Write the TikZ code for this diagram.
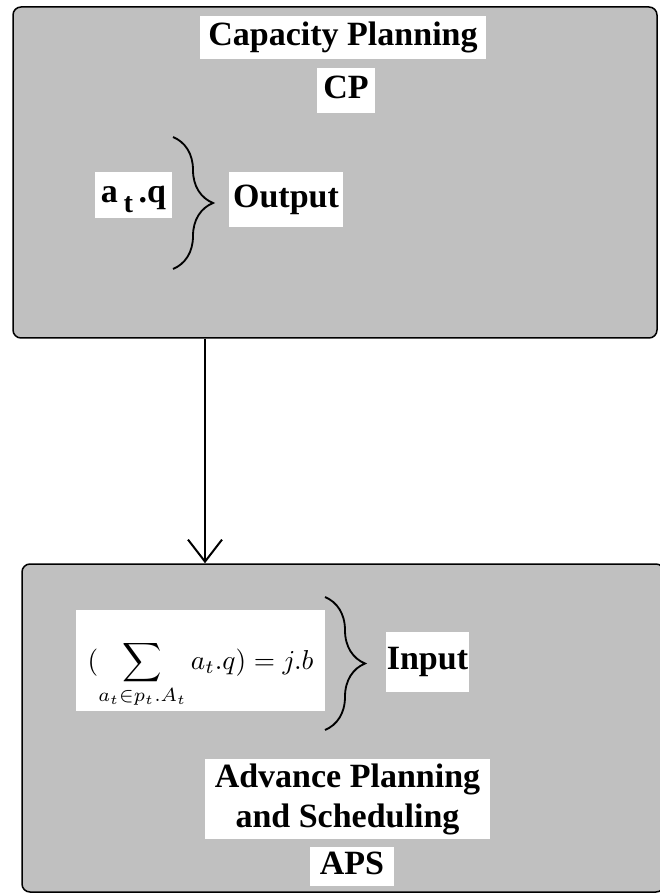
\documentclass[tikz,border=0pt]{standalone}
\usepackage{amsmath}
\usepackage{graphicx}
\usepackage{fontspec}
\setmainfont{Liberation Serif}
\usetikzlibrary{arrows.meta,decorations.pathreplacing}
\definecolor{panelgray}{HTML}{C0C0C0}
\tikzset{
  panel/.style={draw=black,line width=0.45pt,fill=panelgray,rounded corners=2.4pt,inner sep=0pt},
  tag/.style={fill=white,inner sep=0pt,align=center,font=\fontsize{10.2}{12}\selectfont\bfseries},
  oneline/.style={text height=7.1pt,text depth=2.5pt},
  curly/.style={decorate,decoration={brace,amplitude=12pt},line width=0.55pt}
}
\begin{document}
\begin{tikzpicture}[x=0.3pt,y=-0.3pt]
\useasboundingbox (0,0) rectangle (660,893);
% the two planning levels
\node[panel,minimum width=644*0.3pt,minimum height=331*0.3pt] (cp) at (335,172.5) {};
\node[panel,minimum width=642*0.3pt,minimum height=328*0.3pt] (aps) at (343,728) {};
% white labels
\foreach \x/\y/\w/\h/\nm/\opt/\txt in {343/37.5/286/43/cptitle/oneline/{Capacity Planning},346/90.5/58/45/cpabbr/oneline/{CP},133.5/195/77/46/outq/oneline/{a\,\raisebox{-3pt}{\fontsize{8.5}{10}\selectfont t}\,.q},286/199.5/114/55/outlbl/oneline/{Output},427.5/662/83/60/inlbl/oneline/{Input},347.5/799/285/80/apsname/{}/{Advance Planning\\and Scheduling},352/866.5/84/39/apsabbr/oneline/{APS}} {
  \node[tag,\opt,minimum width=\w*0.3pt,minimum height=\h*0.3pt] (\nm) at (\x,\y) {\txt};
}
\node[fill=white,inner sep=0pt,minimum width=249*0.3pt,minimum height=101*0.3pt] (sumbox) at (200.5,660.5)
  {\raisebox{-4.2pt}[\height][\depth]{\scalebox{0.82}{$\displaystyle (\sum_{a_t\in p_t.A_t} a_t.q) = j.b$}}};
% braces
\draw[curly] (173,137) -- (173,269);
\draw[curly] (325,597) -- (325,730);
% feed from CP down to APS
\coordinate (feed) at (205,0);
\draw[-{Straight Barb[length=6.6pt,width=10.2pt]},line width=0.6pt] (feed |- cp.south) -- (feed |- aps.north);
\end{tikzpicture}
\end{document}
